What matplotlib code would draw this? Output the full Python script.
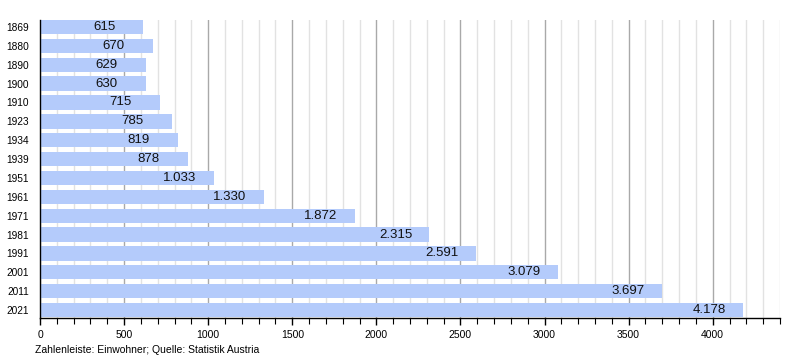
import matplotlib
matplotlib.use("Agg")
import matplotlib.pyplot as plt
from matplotlib.ticker import MultipleLocator

years = ["1869", "1880", "1890", "1900", "1910", "1923", "1934", "1939",
         "1951", "1961", "1971", "1981", "1991", "2001", "2011", "2021"]
population = [615, 670, 629, 630, 715, 785, 819, 878,
              1033, 1330, 1872, 2315, 2591, 3079, 3697, 4178]
value_labels = ["615", "670", "629", "630", "715", "785", "819", "878",
                "1.033", "1.330", "1.872", "2.315", "2.591", "3.079", "3.697", "4.178"]
footer = "Zahlenleiste: Einwohner; Quelle: Statistik Austria"

plt.rcParams['font.family'] = ['Liberation Sans', 'DejaVu Sans']

fig = plt.figure(figsize=(8, 3.6), dpi=100)
ax = fig.add_axes([0.05, 0.1167, 0.925, 0.8277])

pos = list(range(len(years)))
ax.barh(pos, population, height=0.76, color='#b4cbfb', zorder=3)

for p, v, lab in zip(pos, population, value_labels):
    ax.text(v - 300, p, lab, ha='left', va='center', fontsize=9.5,
            color='#111111', zorder=4)

ax.set_xlim(0, 4400)
ax.set_ylim(15.42, -0.37)
ax.set_yticks(pos)
ax.set_yticklabels(years, fontsize=7.3)
ax.xaxis.set_major_locator(MultipleLocator(500))
ax.xaxis.set_minor_locator(MultipleLocator(100))
ax.tick_params(axis='x', which='major', direction='out', length=5, width=1,
               labelsize=7.5, pad=4)
ax.tick_params(axis='x', which='minor', direction='out', length=4, width=0.8)
ax.tick_params(axis='y', which='both', length=0, pad=8)

ax.grid(axis='x', which='minor', color='#e2e2e2', linewidth=1, zorder=0)
ax.grid(axis='x', which='major', color='#a9a9a9', linewidth=1, zorder=1)
ax.set_axisbelow(True)

for s in ['top', 'right']:
    ax.spines[s].set_visible(False)
for s in ['left', 'bottom']:
    ax.spines[s].set_color('black')
    ax.spines[s].set_linewidth(1)
    ax.spines[s].set_zorder(5)

fig.text(35 / 800, 1 - 350 / 360, footer, fontsize=7.5, ha='left', va='center')

fig.savefig("out.png", dpi=100)
